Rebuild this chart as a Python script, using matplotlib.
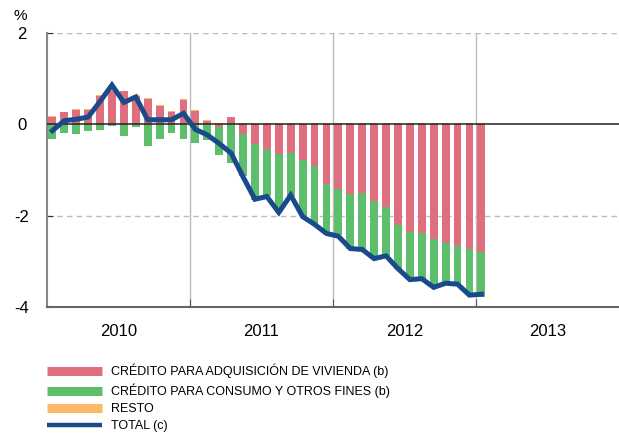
import numpy as np
import matplotlib
matplotlib.use("Agg")
import matplotlib.pyplot as plt
from matplotlib.lines import Line2D

# monthly data, Jan 2010 .. Jan 2013
vivienda = [0.17, 0.26, 0.31, 0.31, 0.62, 0.74, 0.72, 0.62, 0.55, 0.41, 0.28, 0.54,
            0.29, 0.07, -0.06, 0.15, -0.22, -0.44, -0.55, -0.64, -0.63, -0.79, -0.91, -1.30,
            -1.41, -1.52, -1.50, -1.68, -1.82, -2.21, -2.36, -2.39, -2.52, -2.59, -2.66, -2.72,
            -2.79]
consumo = [-0.33, -0.19, -0.22, -0.15, -0.13, -0.03, -0.26, -0.06, -0.48, -0.33, -0.19, -0.33,
           -0.40, -0.34, -0.61, -0.84, -0.91, -1.22, -1.02, -1.21, -0.94, -1.21, -1.27, -1.09,
           -1.02, -1.20, -1.24, -1.26, -1.06, -0.95, -1.05, -0.99, -1.04, -0.89, -0.84, -1.02,
           -0.99]
resto = [0.02, 0.02, 0.02, 0.02, 0.02, 0.02, 0.02, 0.02, 0.02, 0.02, 0.02, 0.02,
         0.02, 0.02, 0.02, 0.02, 0.02, 0.02, 0.02, 0.02, 0.02, 0.02, 0.02, 0.02,
         0.02, 0.02, 0.02, 0.02, 0.02, 0.02, 0.02, 0.02, 0.03, 0.04, 0.04, 0.04,
         0.04]
total = [-0.14, 0.08, 0.11, 0.16, 0.50, 0.86, 0.48, 0.60, 0.10, 0.10, 0.10, 0.24,
         -0.11, -0.23, -0.42, -0.63, -1.15, -1.64, -1.58, -1.93, -1.55, -2.02, -2.19, -2.39,
         -2.45, -2.72, -2.74, -2.94, -2.88, -3.16, -3.40, -3.38, -3.57, -3.48, -3.50, -3.74,
         -3.72]
years = ["2010", "2011", "2012", "2013"]
legend_labels = ["CRÉDITO PARA ADQUISICIÓN DE VIVIENDA (b)",
                 "CRÉDITO PARA CONSUMO Y OTROS FINES (b)",
                 "RESTO", "TOTAL (c)"]

c_red = "#DF6F7E"
c_green = "#5DBE6B"
c_orange = "#FDB968"
c_blue = "#184A8C"

plt.rcParams['font.family'] = ['Liberation Sans', 'DejaVu Sans']

fig = plt.figure(figsize=(6.19, 4.34), dpi=100)
ax = fig.add_axes([47/619, 1-307/434, 1-47/619, (307-33)/434])

x = np.arange(len(total)) + 0.45
pos = np.zeros(len(x))
neg = np.zeros(len(x))
for vals, col in [(vivienda, c_red), (consumo, c_green), (resto, c_orange)]:
    v = np.array(vals)
    bottom = np.where(v >= 0, pos, neg)
    ax.bar(x, v, bottom=bottom, width=0.66, color=col, edgecolor='none', zorder=2)
    pos = pos + np.where(v >= 0, v, 0)
    neg = neg + np.where(v < 0, v, 0)

ax.plot(x, total, color=c_blue, lw=3.6, solid_joinstyle='miter', zorder=4)

ax.set_xlim(0, 48)
ax.set_ylim(-4, 2)
ax.axhline(0, color='#222222', lw=1.1, zorder=3)
for yv in [2, -2]:
    ax.axhline(yv, color='#BBBBBB', lw=1.0, ls=(0, (4, 3)), zorder=1)
for xv in [12, 24, 36]:
    ax.axvline(xv, color='#BBBBBB', lw=1.0, zorder=1)

for s in ['top', 'right']:
    ax.spines[s].set_visible(False)
ax.spines['left'].set_color('#888888')
ax.spines['left'].set_linewidth(1.5)
ax.spines['bottom'].set_color('#666666')
ax.spines['bottom'].set_linewidth(1.5)

ax.set_yticks([2, 0, -2, -4])
ax.set_yticklabels(["2", "0", "-2", "-4"])
ax.tick_params(axis='y', direction='in', length=4, color='#333333', labelsize=12, pad=18)
for lab in ax.get_yticklabels():
    lab.set_horizontalalignment('center')

ax.set_xticks([12, 24, 36])
ax.set_xticklabels([])
ax.set_xticks([6, 18, 30, 42], minor=True)
ax.set_xticklabels(years, minor=True)
ax.tick_params(axis='x', which='major', direction='in', length=6, color='#555555')
ax.tick_params(axis='x', which='minor', length=0, labelsize=12, pad=12)

fig.text(20/619, 1-16/434, "%", fontsize=11, ha='center', va='center')

handles = [Line2D([], [], color=c_red, lw=6.5, solid_capstyle='butt'),
           Line2D([], [], color=c_green, lw=6.5, solid_capstyle='butt'),
           Line2D([], [], color=c_orange, lw=6.5, solid_capstyle='butt'),
           Line2D([], [], color=c_blue, lw=3.2, solid_capstyle='butt')]
fig.legend(handles, legend_labels, loc='upper left', bbox_to_anchor=(47/619, 1-364/434),
           frameon=False, borderpad=0, borderaxespad=0, handlelength=4.4,
           handletextpad=0.75, labelspacing=0.4,
           prop={'family': ['Liberation Sans', 'DejaVu Sans'], 'size': 9})

fig.savefig("out.png", dpi=100)
